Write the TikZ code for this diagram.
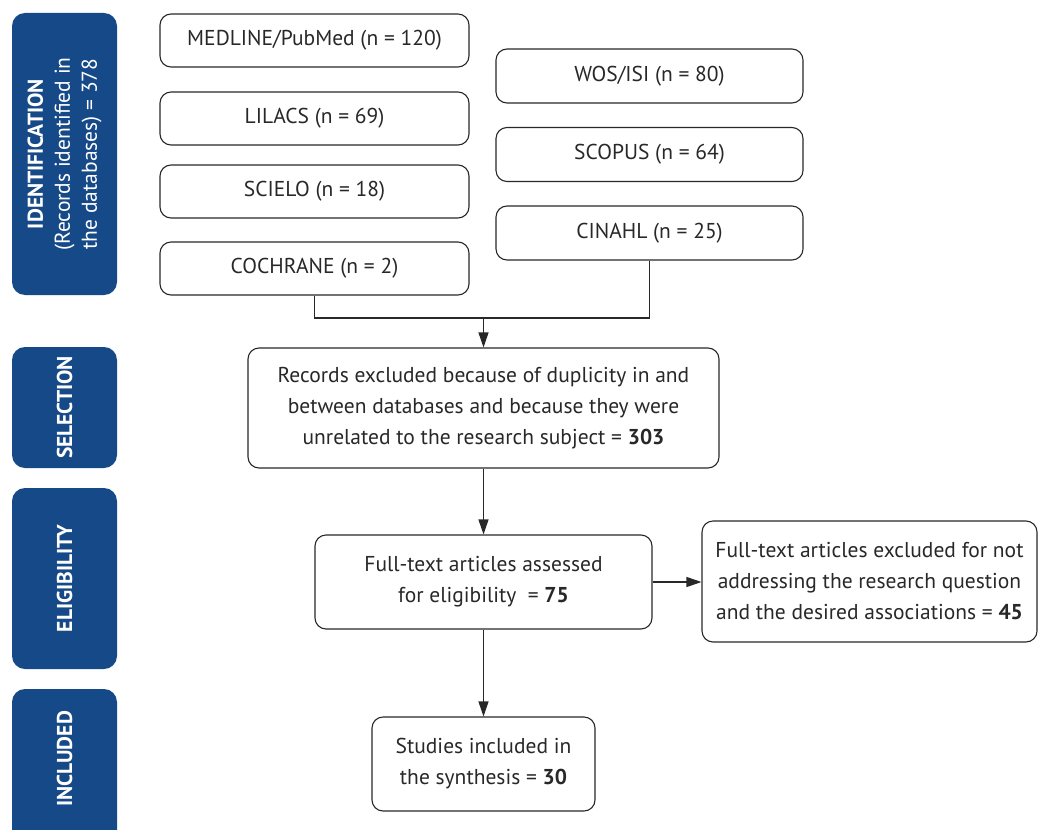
\documentclass[tikz,border=0pt]{standalone}
\usepackage{fontspec}
\setmainfont{PT Sans}
\usepackage{tikz}
\usetikzlibrary{arrows.meta,positioning,calc}
\definecolor{stageBlue}{RGB}{22,73,135}
\definecolor{lineGray}{RGB}{40,40,40}

\begin{document}
\begin{tikzpicture}[
    x=1pt, y=-1pt,
    box/.style={draw=lineGray, line width=1.1pt, rounded corners=11pt,
      align=center, inner sep=0pt, font=\fontsize{21.5}{31}\selectfont,
      text=lineGray},
    dbbox/.style={box, minimum width=309pt, minimum height=53pt},
    stage/.style={fill=stageBlue, rounded corners=13pt},
    stagetext/.style={rotate=90, align=center, text=white,
      font=\fontsize{21.5}{27}\selectfont},
    link/.style={draw=lineGray, line width=1.1pt},
    >={Triangle[length=15pt,width=10pt]}
  ]
    \useasboundingbox (0,0) rectangle (1040,829);

    % Stage bars (left)
    \fill[stage] (12,13) rectangle (117,295);
    \fill[stage] (12,347) rectangle (117,468);
    \fill[stage] (12,488) rectangle (117,669);
    \fill[stage] (12,689) rectangle (117,850);
    \node[stagetext] (ident) at (64.5,154) {\textbf{IDENTIFICATION}\\(Records identified in\\the databases) = 378};
    \node[stagetext] (selec) at (64.5,407.5) {\textbf{SELECTION}};
    \node[stagetext] (elig) at (64.5,578.5) {\textbf{ELIGIBILITY}};
    \node[stagetext] (incl) at (64.5,759) {\textbf{INCLUDED}};

    % Databases
    \node[dbbox] (med) at (314.5,40.5) {MEDLINE/PubMed (n = 120)};
    \node[dbbox] (lil) at (314.5,118.5) {LILACS (n = 69)};
    \node[dbbox] (sci) at (314.5,191.5) {SCIELO (n = 18)};
    \node[dbbox] (coc) at (314.5,268.5) {COCHRANE (n = 2)};
    \node[dbbox, minimum width=307pt, minimum height=54pt] (wos) at (649.5,76) {WOS/ISI (n = 80)};
    \node[dbbox, minimum width=307pt, minimum height=54pt] (sco) at (649.5,154.5) {SCOPUS (n = 64)};
    \node[dbbox, minimum width=307pt, minimum height=54pt] (cin) at (649.5,233) {CINAHL (n = 25)};

    % Flow boxes
    \node[box, minimum width=471pt, minimum height=120pt] (rec) at (483.5,408)
      {Records excluded because of duplicity in and\\between databases and because they were\\unrelated to the research subject = \textbf{303}};
    \node[box, minimum width=337pt, minimum height=94pt] (full) at (483.5,582)
      {Full-text articles assessed\\for eligibility~~= \textbf{75}};
    \node[box, minimum width=335pt, minimum height=121pt] (excl) at (869.5,581.5)
      {Full-text articles excluded for not\\addressing the research question\\and the desired associations = \textbf{45}};
    \node[box, minimum width=223pt, minimum height=94pt] (stud) at (483.5,764)
      {Studies included in\\the synthesis = \textbf{30}};

    % Connectors
    \coordinate (join) at (483.5,318);
    \draw[link] (coc.south) |- (join) -| (cin.south);
    \draw[link, ->] (join) -- (rec.north);
    \draw[link, ->] (rec) -- (full);
    \draw[link, ->] (full.east) -- (full.east -| excl.west);
    \draw[link, ->] (full) -- (stud);
\end{tikzpicture}
\end{document}
